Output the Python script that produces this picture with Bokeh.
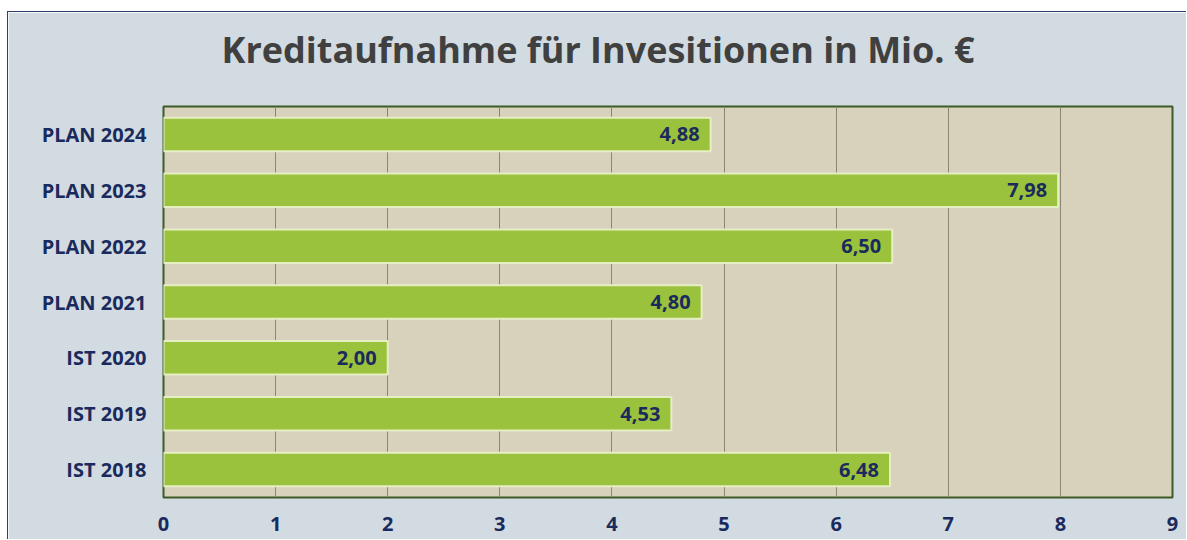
from bokeh.plotting import figure
from bokeh.models import ColumnDataSource, FixedTicker, LabelSet, Range1d, Title
from bokeh.core.properties import value
from bokeh.embed import file_html
from bokeh.resources import INLINE

categories = ["IST 2018", "IST 2019", "IST 2020", "PLAN 2021", "PLAN 2022", "PLAN 2023", "PLAN 2024"]
values = [6.48, 4.53, 2.00, 4.80, 6.50, 7.98, 4.88]
value_labels = ["6,48", "4,53", "2,00", "4,80", "6,50", "7,98", "4,88"]
x_ticks = [0, 1, 2, 3, 4, 5, 6, 7, 8, 9]
title_text = "Kreditaufnahme für Invesitionen in Mio. €"

NAVY = "#1b2a5c"
FONT = "Open Sans"

src = ColumnDataSource(dict(cat=categories, val=values, lab=value_labels))

p = figure(width=1179, height=528, y_range=categories, x_range=Range1d(0, 9),
           output_backend="svg", toolbar_location=None,
           min_border_left=155, min_border_right=15, min_border_top=94, min_border_bottom=43)

p.border_fill_color = "#d1dbe1"
p.background_fill_color = "#d8d1bc"
p.outline_line_color = "#3d5a28"
p.outline_line_width = 2

p.title.text = title_text
p.title.text_font = FONT
p.title.text_font_style = "bold"
p.title.text_font_size = "36px"
p.title.text_color = "#404040"
p.title.align = "left"
p.title.offset = 58
p.title.vertical_align = "top"
p.title.standoff = 24

# thin spacer panel between the title and the plot frame
spacer = Title(text=" ", text_font_size="2px", standoff=15, text_color="#d1dbe1")
p.add_layout(spacer, "above")

p.hbar(y="cat", right="val", left=0, height=0.6, source=src,
       fill_color="#9bc23c", line_color="#e6eec4", line_width=2)

labels = LabelSet(x="val", y="cat", text="lab", source=src, x_offset=-11,
                  text_align="right", text_baseline="middle",
                  text_font=value(FONT), text_font_style="bold",
                  text_font_size="20px", text_color=NAVY)
p.add_layout(labels)

p.xaxis.ticker = FixedTicker(ticks=x_ticks)
p.xgrid.ticker = FixedTicker(ticks=x_ticks)
p.xgrid.grid_line_color = "#8c8572"
p.xgrid.grid_line_width = 1
p.ygrid.grid_line_color = None

for ax in (p.xaxis, p.yaxis):
    ax.axis_line_color = None
    ax.major_tick_line_color = None
    ax.minor_tick_line_color = None
    ax.major_label_text_font = FONT
    ax.major_label_text_font_style = "bold"
    ax.major_label_text_font_size = "20px"
    ax.major_label_text_color = NAVY

p.xaxis.major_label_standoff = 13
p.yaxis.major_label_standoff = 11

p.styles = {"border-left": "1px solid #2e4070", "border-top": "1px solid #2e4070",
            "margin-left": "7px", "margin-top": "11px"}

open("out.html", "w").write(file_html(p, INLINE))
